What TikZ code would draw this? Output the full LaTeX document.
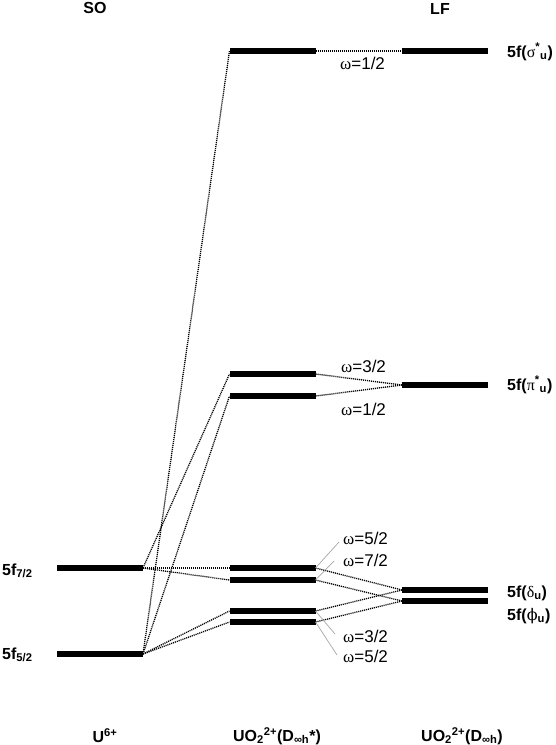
\documentclass[tikz,border=0pt]{standalone}
\usepackage{fontspec}
\setmainfont{Liberation Sans}
\newfontfamily\gr{Liberation Serif}
\newfontfamily\grphi{DejaVu Serif}
\tikzset{
  bar/.style={fill=black, draw=none, minimum width=86pt, minimum height=5.5pt, inner sep=0pt, outer sep=0pt},
  link/.style={dash pattern=on 1.1pt off 0.9pt, line width=1.3pt},
  lead/.style={gray!70, line width=0.7pt},
  om/.style={font=\fontsize{17}{20}\selectfont, inner sep=0pt, anchor=base west},
  lbl/.style={font=\bfseries\fontsize{16}{19}\selectfont, inner sep=0pt},
}
\begin{document}
\begin{tikzpicture}[x=1pt, y=-1pt]
\useasboundingbox (0,0) rectangle (556,745);
% column titles
\node[lbl] (tSO) at (95,8) {SO};
\node[lbl] (tLF) at (440,9) {LF};
% SO bars
\node[bar] (S7) at (100,568) {};
\node[bar] (S5) at (100,654) {};
% middle bars
\node[bar] (Ms)  at (272.5,51) {};
\node[bar] (Mp1) at (272.5,374) {};
\node[bar] (Mp2) at (272.5,396) {};
\node[bar] (M1)  at (272.5,568) {};
\node[bar] (M2)  at (272.5,580) {};
\node[bar] (M3)  at (272.5,611) {};
\node[bar] (M4)  at (272.5,622) {};
% LF bars
\node[bar] (Ls) at (445,51) {};
\node[bar] (Lp) at (445,385) {};
\node[bar] (Ld) at (445,590) {};
\node[bar] (Lf) at (445,601) {};
% left labels
\node[lbl, anchor=base west] (l7) at (2,575) {5f\textsubscript{7/2}};
\node[lbl, anchor=base west] (l5) at (2,659) {5f\textsubscript{5/2}};
% right labels
\node[lbl, anchor=base west] (rs) at (507,57) {5f({\gr\mdseries σ}\textsuperscript{*}\textsubscript{u})};
\node[lbl, anchor=base west] (rp) at (507,390) {5f({\gr\mdseries π}\textsuperscript{*}\textsubscript{u})};
\node[lbl, anchor=base west] (rd) at (507,597) {5f({\gr\mdseries δ}\textsubscript{u})};
\node[lbl, anchor=base west] (rf) at (507,620) {5f({\grphi\mdseries ϕ}\textsubscript{u})};
% bottom labels
\node[lbl] (bU) at (105,736) {U\textsuperscript{6+}};
\node[lbl] (bM) at (277,736) {UO\textsubscript{2}\textsuperscript{2+}(D\textsubscript{∞h}*)};
\node[lbl] (bL) at (462,736) {UO\textsubscript{2}\textsuperscript{2+}(D\textsubscript{∞h})};
% omega labels
\node[om] (o1) at (340,69) {{\gr ω}=1/2};
\node[om] (o2) at (341,372) {{\gr ω}=3/2};
\node[om] (o3) at (341,415) {{\gr ω}=1/2};
\node[om] (o4) at (343,544) {{\gr ω}=5/2};
\node[om] (o5) at (343,566) {{\gr ω}=7/2};
\node[om] (o6) at (343,642) {{\gr ω}=3/2};
\node[om] (o7) at (343,662) {{\gr ω}=5/2};
% SO -> middle
\draw[link] (S5.east) -- (Ms.west);
\draw[link] (S7.east) -- (Mp1.west);
\draw[link] (S5.east) -- (Mp2.west);
\draw[link] (S7.east) -- (M1.west);
\draw[link] (S7.east) -- (M2.west);
\draw[link] (S5.east) -- (M3.west);
\draw[link] (S5.east) -- (M4.west);
% middle -> LF
\draw[link] (Ms.east) -- (Ls.west);
\draw[link] (Mp1.east) -- (Lp.west);
\draw[link] (Mp2.east) -- (Lp.west);
\draw[link] (M1.east) -- (Ld.west);
\draw[link] (M2.east) -- (Lf.west);
\draw[link] (M3.east) -- (Ld.west);
\draw[link] (M4.east) -- (Lf.west);
% grey leaders
\coordinate (e4) at (339,542);
\coordinate (e5) at (334,561);
\coordinate (e6) at (335,634);
\coordinate (e7) at (337,655);
\draw[lead] (M1.east) -- (e4);
\draw[lead] (M2.east) -- (e5);
\draw[lead] (M3.east) -- (e6);
\draw[lead] (M4.east) -- (e7);
\end{tikzpicture}
\end{document}
